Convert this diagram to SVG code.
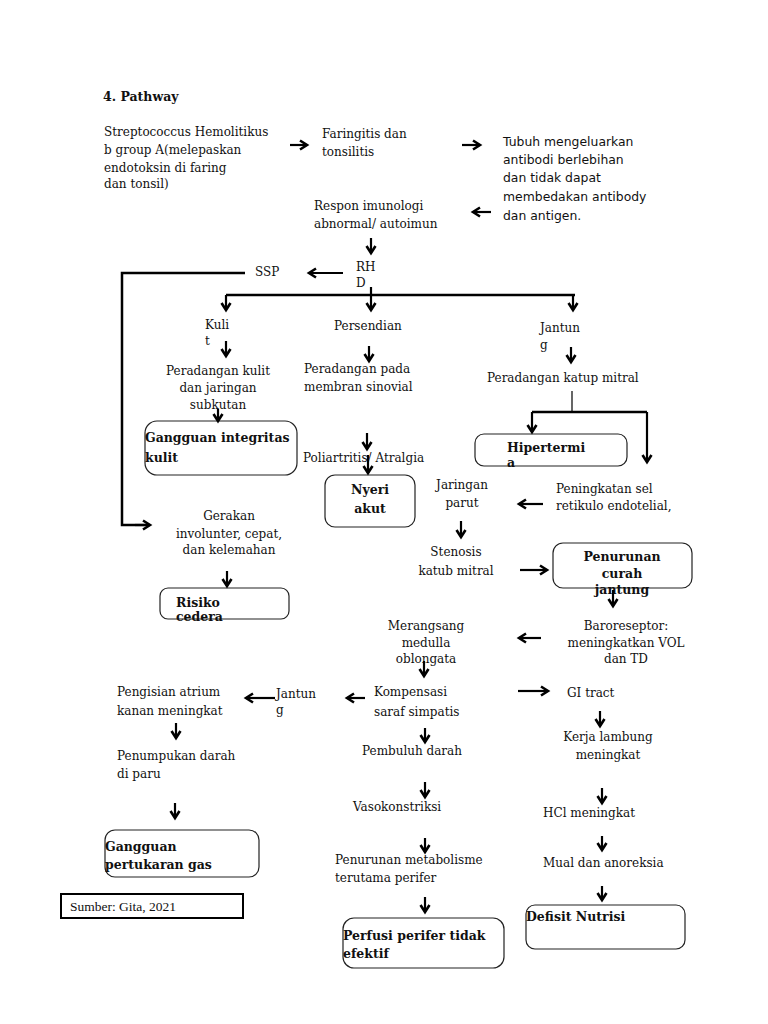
<svg xmlns="http://www.w3.org/2000/svg" width="768" height="1024" viewBox="0 0 768 1024">
<style>
text{font-family:"DejaVu Serif","Liberation Serif",serif;font-size:12px;fill:#111}
.b{font-weight:bold;font-size:12.5px}
.s{font-family:"DejaVu Sans","Liberation Sans",sans-serif;font-size:12.4px}
.m{text-anchor:middle}
.box{fill:#fff;stroke:#222;stroke-width:1.2}
.ln{fill:none;stroke:#000;stroke-width:2.5}
.ar{fill:none;stroke:#000;stroke-width:2.2;marker-end:url(#ah)}
</style>
<defs>
<marker id="ah" markerUnits="userSpaceOnUse" markerWidth="12" markerHeight="12" refX="8" refY="6" orient="auto">
<path d="M1,1.5 L8,6 L1,10.5" fill="none" stroke="#000" stroke-width="2.6"/>
</marker>
</defs>
<rect width="768" height="1024" fill="#fff"/>
<text x="103" y="101" class="b" style="font-size:12.5px">4. Pathway</text>

<g id="strep"><text x="104" y="136">Streptococcus Hemolitikus</text><text x="104" y="154">b group A(melepaskan</text><text x="104" y="172">endotoksin di faring</text><text x="104" y="188">dan tonsil)</text></g>
<g id="faring"><text x="322" y="138">Faringitis dan</text><text x="322" y="156">tonsilitis</text></g>
<g id="tubuh"><text class="s" x="503" y="146">Tubuh mengeluarkan</text><text class="s" x="503" y="164">antibodi berlebihan</text><text class="s" x="503" y="182">dan tidak dapat</text><text class="s" x="503" y="201">membedakan antibody</text><text class="s" x="503" y="220">dan antigen.</text></g>
<g id="respon"><text x="314" y="210">Respon imunologi</text><text x="314" y="228">abnormal/ autoimun</text></g>
<g id="rhd"><text x="356" y="271">RH</text><text x="356" y="287">D</text></g>
<g id="ssp"><text x="255" y="276">SSP</text></g>
<g id="kulit"><text x="205" y="329">Kuli</text><text x="205" y="345">t</text></g>
<g id="persendian"><text x="334" y="330">Persendian</text></g>
<g id="jantung1"><text x="540" y="332">Jantun</text><text x="540" y="349">g</text></g>
<g id="radangkulit"><text class="m" x="218" y="375">Peradangan kulit</text><text class="m" x="218" y="392">dan jaringan</text><text class="m" x="218" y="409">subkutan</text></g>
<g id="radangsinovial"><text x="304" y="373">Peradangan pada</text><text x="304" y="391">membran sinovial</text></g>
<g id="radangmitral"><text x="487" y="382">Peradangan katup mitral</text></g>
<g id="integritas"><rect class="box" x="145" y="421" width="152" height="54" rx="12"/><text class="b" x="145" y="442">Gangguan integritas</text><text class="b" x="145" y="462">kulit</text></g>
<g id="poli"><text x="303" y="462">Poliartritis/ Atralgia</text></g>
<g id="nyeri"><rect class="box" x="325" y="475" width="90" height="52" rx="10"/><text class="b m" x="370" y="494">Nyeri</text><text class="b m" x="370" y="513">akut</text></g>
<g id="hipertermia"><rect class="box" x="475" y="434" width="152" height="32" rx="9"/><text class="b" x="507" y="452">Hipertermi</text><text class="b" x="507" y="467">a</text></g>
<g id="jaringan"><text class="m" x="462" y="489">Jaringan</text><text class="m" x="462" y="507">parut</text></g>
<g id="retikulo"><text x="556" y="493">Peningkatan sel</text><text x="556" y="510">retikulo endotelial,</text></g>
<g id="gerakan"><text class="m" x="229" y="520">Gerakan</text><text class="m" x="229" y="538">involunter, cepat,</text><text class="m" x="229" y="554">dan kelemahan</text></g>
<g id="risiko"><rect class="box" x="160" y="588" width="129" height="31" rx="8"/><text class="b" x="176" y="607">Risiko</text><text class="b" x="176" y="621">cedera</text></g>
<g id="stenosis"><text class="m" x="456" y="556">Stenosis</text><text class="m" x="456" y="575">katub mitral</text></g>
<g id="curah"><rect class="box" x="553" y="543" width="139" height="45" rx="10"/><text class="b m" x="622" y="561">Penurunan</text><text class="b m" x="622" y="578">curah</text><text class="b m" x="622" y="594">jantung</text></g>
<g id="baro"><text class="m" x="626" y="630">Baroreseptor:</text><text class="m" x="626" y="647">meningkatkan VOL</text><text class="m" x="626" y="663">dan TD</text></g>
<g id="medulla"><text class="m" x="426" y="630">Merangsang</text><text class="m" x="426" y="647">medulla</text><text class="m" x="426" y="663">oblongata</text></g>
<g id="kompensasi"><text x="374" y="696">Kompensasi</text><text x="374" y="716">saraf simpatis</text></g>
<g id="gitract"><text x="567" y="697">GI tract</text></g>
<g id="jantung2"><text x="276" y="698">Jantun</text><text x="276" y="714">g</text></g>
<g id="pengisian"><text x="117" y="696">Pengisian atrium</text><text x="117" y="715">kanan meningkat</text></g>
<g id="penumpukan"><text x="117" y="760">Penumpukan darah</text><text x="117" y="778">di paru</text></g>
<g id="pertukaran"><rect class="box" x="105" y="830" width="154" height="47" rx="10"/><text class="b" x="105" y="851">Gangguan</text><text class="b" x="105" y="869">pertukaran gas</text></g>
<g id="pembuluh"><text x="362" y="755">Pembuluh darah</text></g>
<g id="vaso"><text x="353" y="811">Vasokonstriksi</text></g>
<g id="metabolisme"><text x="335" y="864">Penurunan metabolisme</text><text x="335" y="882">terutama perifer</text></g>
<g id="perfusi"><rect class="box" x="343" y="918" width="161" height="50" rx="11"/><text class="b" x="343" y="940">Perfusi perifer tidak</text><text class="b" x="343" y="958">efektif</text></g>
<g id="lambung"><text class="m" x="608" y="741">Kerja lambung</text><text class="m" x="608" y="759">meningkat</text></g>
<g id="hcl"><text x="543" y="817">HCl meningkat</text></g>
<g id="mual"><text x="543" y="867">Mual dan anoreksia</text></g>
<g id="defisit"><rect class="box" x="526" y="905" width="159" height="44" rx="9"/><text class="b" x="526" y="921">Defisit Nutrisi</text></g>
<g id="sumber"><rect x="61" y="894" width="182" height="24" fill="#fff" stroke="#000" stroke-width="2"/><text x="70" y="911" style="font-family:'Liberation Serif',serif;font-size:13.5px">Sumber: Gita, 2021</text></g>

<g id="connectors">
<path class="ar" d="M290,145 H307"/>
<path class="ar" d="M462,145 H480"/>
<path class="ar" d="M491,212 H473"/>
<path class="ar" d="M371,238 V253"/>
<path class="ar" d="M343,273 H309"/>
<path class="ln" d="M245,273 H122 V525 H148"/>
<path class="ar" d="M135,525 H150"/>
<path class="ln" d="M226,295 H575"/>
<path class="ar" d="M371,287 V310"/>
<path class="ar" d="M226,295 V310"/>
<path class="ar" d="M573,295 V310"/>
<path class="ar" d="M226,341 V356"/>
<path class="ar" d="M369,346 V361"/>
<path class="ar" d="M571,347 V362"/>
<path class="ar" d="M218,409 V421"/>
<path class="ar" d="M367,433 V449"/>
<path class="ar" d="M368,455 V473"/>
<path d="M572,391 V411" fill="none" stroke="#000" stroke-width="1.2"/>
<path class="ln" d="M647,412 H532"/>
<path class="ar" d="M532,412 V432"/>
<path class="ar" d="M647,412 V462"/>
<path class="ar" d="M543,504 H519"/>
<path class="ar" d="M461,521 V537"/>
<path class="ar" d="M520,570 H547"/>
<path class="ar" d="M613,590 V606"/>
<path class="ar" d="M541,638 H519"/>
<path class="ar" d="M424,661 V676"/>
<path class="ar" d="M518,691 H548"/>
<path class="ar" d="M365,698 H347"/>
<path class="ar" d="M275,698 H246"/>
<path class="ar" d="M176,723 V738"/>
<path class="ar" d="M175,803 V818"/>
<path class="ar" d="M425,728 V742"/>
<path class="ar" d="M425,782 V797"/>
<path class="ar" d="M425,838 V852"/>
<path class="ar" d="M425,897 V912"/>
<path class="ar" d="M600,711 V726"/>
<path class="ar" d="M602,788 V803"/>
<path class="ar" d="M602,836 V850"/>
<path class="ar" d="M602,886 V900"/>
<path class="ar" d="M227,571 V586"/>
</g>
</svg>
